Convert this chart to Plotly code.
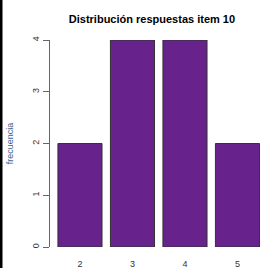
import plotly.graph_objects as go

categories = ["2", "3", "4", "5"]
counts = [2, 4, 4, 2]
y_ticks = [0, 1, 2, 3, 4]

fig = go.Figure()
fig.add_trace(go.Bar(
    x=categories, y=counts,
    marker=dict(color="#68228B", line=dict(color="#333333", width=1)),
    width=0.84, hoverinfo="skip",
))

fig.update_layout(
    width=262, height=268,
    margin=dict(l=50, r=0, t=40, b=21, autoexpand=False),
    plot_bgcolor="white", paper_bgcolor="white",
    showlegend=False,
    title=dict(text="<b>Distribución respuestas item 10</b>", x=0.58, xanchor="center",
               y=1 - 19/268, yanchor="middle",
               font=dict(family="Liberation Sans, Arial", size=11, color="black")),
    font=dict(family="Liberation Sans, Arial", size=9, color="#333333"),
)
fig.update_xaxes(
    type="category", range=[-0.571, 3.467],
    showline=False, showgrid=False, zeroline=False,
    ticks="outside", ticklen=8, tickcolor="rgba(0,0,0,0)",
    tickfont=dict(size=9, color="#333333"), automargin=False,
)
fig.update_yaxes(
    range=[0, 4], tickvals=y_ticks,
    showline=True, linecolor="#666666", linewidth=1,
    showgrid=False, zeroline=False,
    ticks="outside", ticklen=6, tickcolor="#666666",
    tickangle=-90, tickfont=dict(size=9, color="#333333"), automargin=False,
    title=dict(text="frecuencia", font=dict(size=9, color="#3A5F8F"), standoff=16),
)
fig.add_shape(type="line", xref="paper", yref="paper",
              x0=-49/212, x1=-49/212, y0=-21/207, y1=1 + 40/207,
              line=dict(color="black", width=3))

fig.write_html("out.html", config={"displayModeBar": False},
               post_script="document.body.style.margin='0';document.body.style.overflow='hidden';")
